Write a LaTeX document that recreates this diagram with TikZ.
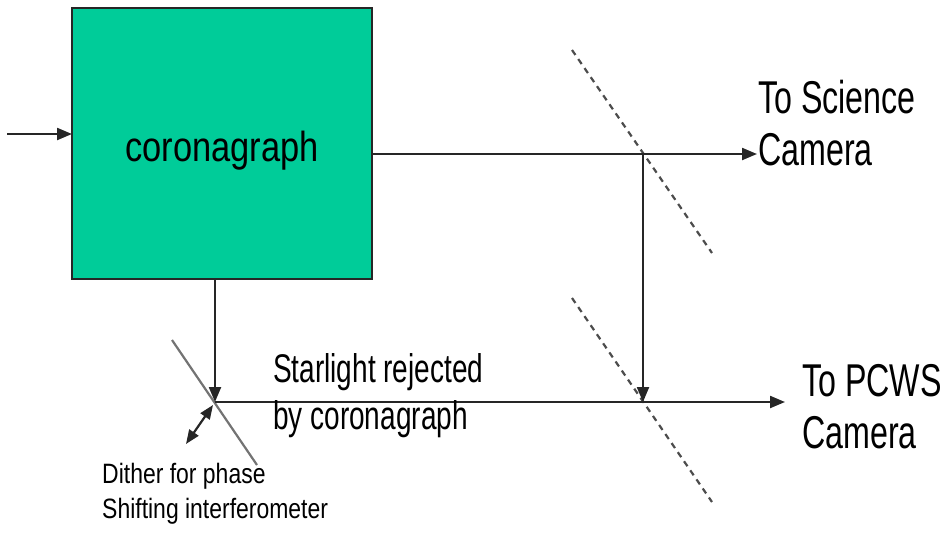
\documentclass[tikz,border=0pt]{standalone}
\usepackage{fontspec}
\setmainfont{Liberation Sans}
\newfontfamily\narrowA[FakeStretch=0.7]{Liberation Sans}
\newfontfamily\narrowB[FakeStretch=0.82]{Liberation Sans}
\usetikzlibrary{arrows.meta}
\definecolor{boxgreen}{HTML}{00CC99}
\begin{document}
\begin{tikzpicture}[x=1pt,y=-1pt,
  beam/.style={line width=2.2pt,draw=black!85},
  tip/.style={-{Triangle[length=15pt,width=12pt]}},
  dmirror/.style={line width=2.2pt,draw=black!70,dash pattern=on 6pt off 5pt},
  smirror/.style={line width=2.2pt,draw=black!55},
  biglabel/.style={inner sep=0pt,anchor=base west,align=left,font=\narrowA\fontsize{46}{52}\selectfont},
  midlabel/.style={inner sep=0pt,anchor=base west,align=left,font=\narrowA\fontsize{40}{47}\selectfont},
  smalllabel/.style={inner sep=0pt,anchor=base west,align=left,font=\narrowB\fontsize{28}{35}\selectfont}]
\useasboundingbox (0,0) rectangle (946,536);
\node[draw=black!85,line width=2.2pt,fill=boxgreen,minimum width=300pt,minimum height=271pt,inner sep=0pt,
      label={[inner sep=0pt,yshift=-7pt,font=\narrowB\fontsize{42}{48}\selectfont]center:coronagraph}] (box) at (222,143.5) {};
% coordinates
\coordinate (in) at (7,134);
\coordinate (inend) at (72,134);
\coordinate (outA) at (372,154);
\coordinate (mA) at (643,154);
\coordinate (endA) at (757,154);
\coordinate (mB) at (643,402);
\coordinate (outB) at (215,279);
\coordinate (mC) at (215,402);
\coordinate (endB) at (785,402);
\coordinate (mAa) at (572,50);
\coordinate (mAb) at (712,253);
\coordinate (mBa) at (572,298);
\coordinate (mBb) at (712,502);
\coordinate (mCa) at (172,340);
\coordinate (mCb) at (257,465);
\coordinate (dA) at (213,405);
\coordinate (dB) at (186,444);
% mirrors
\draw[dmirror] (mAa) -- (mAb);
\draw[dmirror] (mBa) -- (mBb);
\draw[smirror] (mCa) -- (mCb);
% beams
\draw[beam,tip] (in) -- (inend);
\draw[beam,tip] (outA) -- (endA);
\draw[beam,tip] (mA) -- (mB);
\draw[beam,tip] (outB) -- (mC);
\draw[beam,tip] (mC) -- (endB);
\draw[beam,{Triangle[length=14pt,width=11pt]}-{Triangle[length=14pt,width=11pt]}] (dA) -- (dB);
% labels
\node[biglabel] (sci) at (758,165) {To Science\\Camera};
\node[biglabel] (pcws) at (802,448) {To PCWS\\Camera};
\node[midlabel] (star) at (273,429) {Starlight rejected\\by coronagraph};
\node[smalllabel] (dith) at (102,518) {Dither for phase\\Shifting interferometer};
\end{tikzpicture}
\end{document}
